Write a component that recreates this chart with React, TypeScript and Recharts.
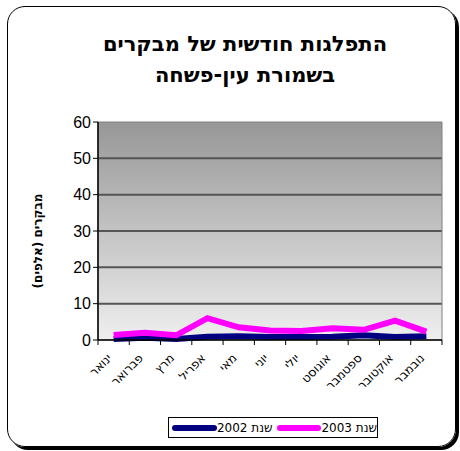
import React from 'react';
import { LineChart, Line, XAxis, YAxis, CartesianGrid, ReferenceArea } from 'recharts';

const months = ['ינואר', 'פברואר', 'מרץ', 'אפריל', 'מאי', 'יוני', 'יולי', 'אוגוסט', 'ספטמבר', 'אוקטובר', 'נובמבר'];
const visitors2002 = [0.3, 0.6, 0.3, 0.9, 1.0, 0.8, 0.8, 0.9, 1.3, 0.8, 1.0];
const visitors2003 = [1.4, 2.0, 1.3, 6.0, 3.5, 2.6, 2.5, 3.2, 2.8, 5.3, 2.3];
const yTicks = [0, 10, 20, 30, 40, 50, 60];
const edgeTicks = [0, 1, 2, 3, 4, 5, 6, 7, 8, 9, 10, 11];

// points sit in the middle of each month band
const data = months.map((m, i) => ({ pos: i + 0.5, month: m, y2002: visitors2002[i], y2003: visitors2003[i] }));

const BAND = (460 - 58 - 40 - 18) / months.length;

const MonthTick = (props: any) => {
  const { x, y, payload } = props;
  const label = months[payload.value];
  if (!label) return <g />;
  return (
    <g transform={`translate(${x + BAND / 2 - 4},${y + 9})`}>
      <text transform="rotate(-45)" textAnchor="end" fontFamily="DejaVu Sans" fontSize={12} fill="#000" dy={4}>
        {label}
      </text>
    </g>
  );
};

export default function App() {
  return (
    <div style={{ position: 'absolute', left: 0, top: 0, width: 460, height: 451, background: '#fff' }}>
      <svg width={1} height={1} style={{ position: 'absolute', left: 0, top: 0 }}>
        <defs>
          <linearGradient id="bgGrad" x1="0" y1="0" x2="0" y2="1">
            <stop offset="0%" stopColor="#979797" />
            <stop offset="100%" stopColor="#efefef" />
          </linearGradient>
        </defs>
      </svg>
      <div
        style={{
          position: 'absolute', left: 7, top: 6, width: 447, height: 439,
          border: '1px solid #000', borderRadius: 18, boxShadow: '3px 3px 0 #000',
        }}
      />
      <div
        dir="rtl"
        style={{
          position: 'absolute', left: 0, top: 29, width: 490, textAlign: 'center',
          fontFamily: 'DejaVu Sans', fontWeight: 'bold', fontSize: 21, lineHeight: '31px', color: '#000',
        }}
      >
        התפלגות חודשית של מבקרים
        <br />
        בשמורת עין-פשחה
      </div>
      <div
        dir="rtl"
        style={{
          position: 'absolute', left: 38, top: 241, transform: 'translate(-50%,-50%) rotate(-90deg)',
          whiteSpace: 'nowrap', fontFamily: 'DejaVu Sans', fontWeight: 'bold', fontSize: 12,
        }}
      >
        מבקרים (אלפים)
      </div>
      <div
        style={{
          position: 'absolute', left: 168, top: 417, width: 210, height: 21, border: '1px solid #000',
          display: 'flex', alignItems: 'center', fontFamily: 'DejaVu Sans', fontSize: 12, boxSizing: 'border-box',
          whiteSpace: 'nowrap',
        }}
      >
        <span style={{ display: 'inline-block', width: 46, height: 6, borderRadius: 3, background: '#000080', marginLeft: 3 }} />
        <span dir="rtl" style={{ marginRight: 4 }}>שנת 2002</span>
        <span style={{ display: 'inline-block', width: 46, height: 6, borderRadius: 3, background: '#ff00ff' }} />
        <span dir="rtl">שנת 2003</span>
      </div>
      <LineChart
        width={460}
        height={451}
        data={data}
        margin={{ top: 122, right: 18, left: 58, bottom: 51 }}
        style={{ position: 'absolute', left: 0, top: 0 }}
      >
        <CartesianGrid
          vertical={false}
          stroke="#555"
          strokeWidth={2}
          horizontalValues={[10, 20, 30, 40, 50]}
          fill="url(#bgGrad)"
          fillOpacity={1}
        />
        <ReferenceArea x1={0} x2={11} y1={0} y2={60} fill="none" stroke="#808080" strokeWidth={1} />
        <XAxis
          dataKey="pos"
          type="number"
          domain={[0, 11]}
          ticks={edgeTicks}
          interval={0}
          tick={<MonthTick />}
          tickLine={{ stroke: '#000' }}
          tickSize={5}
          axisLine={{ stroke: '#000', strokeWidth: 1.5 }}
          height={60}
          allowDataOverflow
        />
        <YAxis
          domain={[0, 60]}
          ticks={yTicks}
          width={40}
          tickSize={5}
          tickLine={{ stroke: '#000' }}
          axisLine={{ stroke: '#000', strokeWidth: 1.5 }}
          tick={{ fill: '#000', fontFamily: 'Liberation Sans', fontSize: 16 }}
        />
        <Line type="linear" dataKey="y2002" stroke="#000080" strokeWidth={6} dot={false} isAnimationActive={false} />
        <Line type="linear" dataKey="y2003" stroke="#ff00ff" strokeWidth={6} dot={false} isAnimationActive={false} />
      </LineChart>
    </div>
  );
}
